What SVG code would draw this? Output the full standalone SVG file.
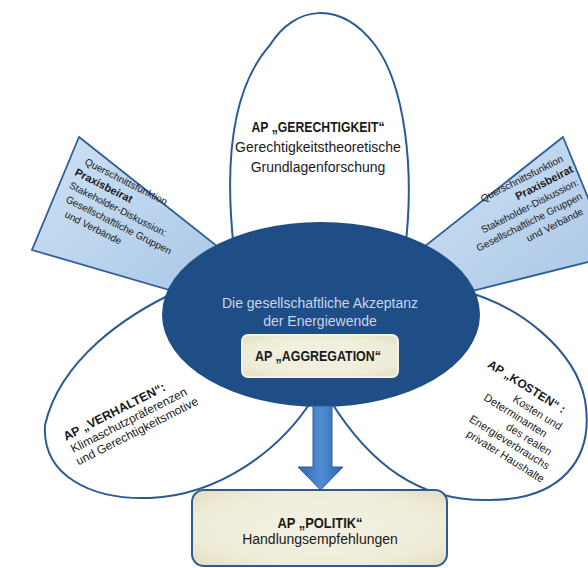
<svg xmlns="http://www.w3.org/2000/svg" width="588" height="568" viewBox="0 0 588 568">
<defs>
<linearGradient id="gBox" x1="0" y1="0" x2="1" y2="1">
<stop offset="0" stop-color="#cfe1f3"/>
<stop offset="1" stop-color="#a9c7e7"/>
</linearGradient>
<linearGradient id="gArrow" x1="0" y1="0" x2="1" y2="0">
<stop offset="0" stop-color="#2d66ab"/>
<stop offset="0.5" stop-color="#4f8dd2"/>
<stop offset="1" stop-color="#2d66ab"/>
</linearGradient>
<radialGradient id="gCream" cx="0.5" cy="0.5" r="0.7">
<stop offset="0" stop-color="#f3f1e4"/>
<stop offset="0.7" stop-color="#efecd8"/>
<stop offset="1" stop-color="#e3dec0"/>
</radialGradient>
</defs>
<style>
.t{font-family:"Liberation Sans",Arial,sans-serif;fill:#1a1a1a}
.b{font-weight:bold}
.petal{fill:#ffffff;stroke:#2b5a93;stroke-width:2}
.pbox{fill:url(#gBox);stroke:#2f5f9a;stroke-width:1.8}
.cream{fill:url(#gCream)}
</style>
<rect width="588" height="568" fill="#ffffff"/>

<g id="praxisbeirat-left">
<polygon class="pbox" points="79,137 32,250 190,296 232,258"/>
<g transform="translate(84,164) rotate(27)" class="t" font-size="10">
<text x="0" y="0">Querschnittsfunktion</text>
<text x="-4" y="14" class="b" font-size="11">Praxisbeirat</text>
<text x="-3" y="28">Stakeholder-Diskussion:</text>
<text x="0" y="42">Gesellschaftliche Gruppen</text>
<text x="6" y="56">und Verbände</text>
</g>
</g>

<g id="praxisbeirat-right">
<polygon class="pbox" points="563,137 612,256 452,296 410,258"/>
<g transform="translate(564,161) rotate(-27)" class="t" font-size="10" text-anchor="end">
<text x="0" y="0">Querschnittsfunktion</text>
<text x="4" y="14" class="b" font-size="11">Praxisbeirat</text>
<text x="3" y="28">Stakeholder-Diskussion:</text>
<text x="0" y="42">Gesellschaftliche Gruppen</text>
<text x="-6" y="56">und Verbände</text>
</g>
</g>

<g id="petal-gerechtigkeit">
<path class="petal" d="M 234 250 C 225 170, 230 90, 270 45 C 295 5, 340 0, 375 45 C 405 85, 415 170, 405 250 Z"/>
<g class="t" font-size="14" text-anchor="middle">
<text x="318" y="132" class="b" textLength="133" lengthAdjust="spacingAndGlyphs">AP „GERECHTIGKEIT“</text>
<text x="318" y="152">Gerechtigkeitstheoretische</text>
<text x="318" y="172">Grundlagenforschung</text>
</g>
</g>

<g id="petal-verhalten">
<path class="petal" d="M 180 290 C 125 315, 60 360, 45 425 C 42 475, 90 500, 150 498 C 220 495, 280 450, 312 400 Z"/>
<g transform="translate(66,441) rotate(-27)" class="t" font-size="12">
<text x="0" y="0" class="b" font-size="12.5">AP „VERHALTEN“:</text>
<text x="1" y="14">Klimaschutzpräferenzen</text>
<text x="0" y="27.5">und Gerechtigkeitsmotive</text>
</g>
</g>

<g id="petal-kosten">
<path class="petal" d="M 460 290 C 520 305, 575 350, 585 400 C 595 460, 560 500, 490 500 C 420 502, 370 465, 330 400 Z"/>
<g transform="translate(524.5,390) rotate(32)" class="t" font-size="11" text-anchor="middle">
<text x="0" y="0" class="b" font-size="12">AP „KOSTEN“ :</text>
<text x="23" y="16">Kosten und</text>
<text x="6" y="30">Determinanten</text>
<text x="30" y="43">des realen</text>
<text x="15" y="56">Energieverbrauchs</text>
<text x="19" y="70">privater Haushalte</text>
</g>
</g>

<g id="center">
<ellipse cx="321" cy="314.5" rx="159" ry="92.5" fill="#1f4d86"/>
<g font-family="Liberation Sans, Arial, sans-serif" font-size="14" fill="#c9d6ea" text-anchor="middle">
<text x="320" y="308">Die gesellschaftliche Akzeptanz</text>
<text x="320" y="326">der Energiewende</text>
</g>
</g>

<g id="aggregation">
<rect x="242" y="335" width="156" height="42" rx="6" class="cream" stroke="#f6f4e8" stroke-width="2"/>
<text x="318" y="361" class="t b" font-size="14" text-anchor="middle" textLength="126" lengthAdjust="spacingAndGlyphs">AP „AGGREGATION“</text>
</g>

<g id="connectors">
<polygon points="313,406 332,406 332,467 343,467 320.5,490 298,467 313,467" fill="url(#gArrow)" stroke="#2c5f9e" stroke-width="1"/>
</g>

<g id="politik">
<rect x="192" y="490" width="255" height="76" rx="12" class="cream" stroke="#2d5c95" stroke-width="2"/>
<g class="t" font-size="14" text-anchor="middle">
<text x="320" y="528" class="b" textLength="85" lengthAdjust="spacingAndGlyphs">AP „POLITIK“</text>
<text x="320" y="544">Handlungsempfehlungen</text>
</g>
</g>
</svg>
